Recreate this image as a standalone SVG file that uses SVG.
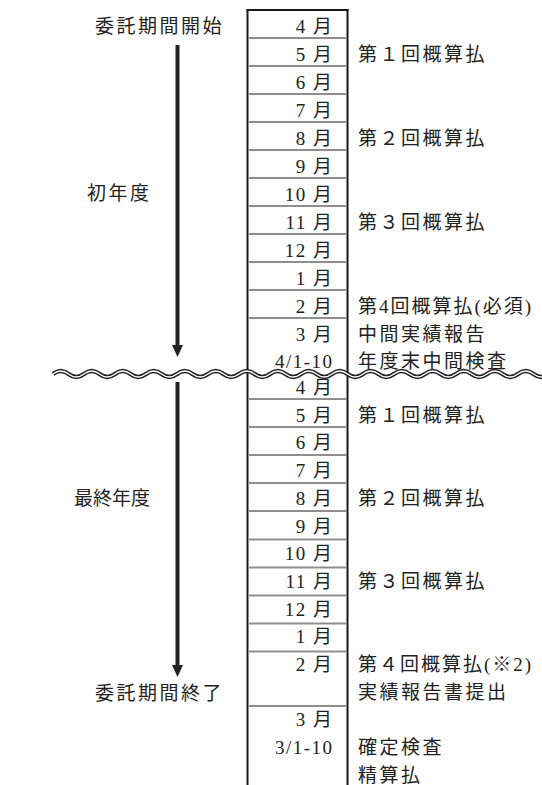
<svg xmlns="http://www.w3.org/2000/svg" width="542" height="785" viewBox="0 0 542 785">
<defs>
<style>
.t { font-family: "Liberation Serif", "Noto Sans CJK JP", serif; font-size: 19px; fill: #222; }
.m { text-anchor: end; letter-spacing: 1.5px; }
.l { letter-spacing: 2.5px; }
.ls { letter-spacing: 2px; }
.sep { stroke: #8f8f8f; stroke-width: 1.8; }
.frame { stroke: #1a1a1a; stroke-width: 2; fill: none; }
.shaft { stroke: #222; stroke-width: 4; }
.head { fill: #222; }
.waveOut { fill: none; stroke: #222; stroke-width: 4.4; }
.waveIn { fill: none; stroke: #fff; stroke-width: 1.3; }
</style>
</defs>
<rect width="542" height="785" fill="#fff"/>

<g id="table">
  <g id="frame">
    <line class="frame" x1="247.5" y1="9" x2="247.5" y2="785"/>
    <line class="frame" x1="347.5" y1="9" x2="347.5" y2="785"/>
    <line class="frame" x1="246.5" y1="10" x2="348.5" y2="10"/>
  </g>
  <g id="separators">
    <line class="sep" x1="248.5" y1="38" x2="346.5" y2="38"/>
    <line class="sep" x1="248.5" y1="66" x2="346.5" y2="66"/>
    <line class="sep" x1="248.5" y1="94" x2="346.5" y2="94"/>
    <line class="sep" x1="248.5" y1="122" x2="346.5" y2="122"/>
    <line class="sep" x1="248.5" y1="150" x2="346.5" y2="150"/>
    <line class="sep" x1="248.5" y1="178" x2="346.5" y2="178"/>
    <line class="sep" x1="248.5" y1="206" x2="346.5" y2="206"/>
    <line class="sep" x1="248.5" y1="234" x2="346.5" y2="234"/>
    <line class="sep" x1="248.5" y1="262" x2="346.5" y2="262"/>
    <line class="sep" x1="248.5" y1="290" x2="346.5" y2="290"/>
    <line class="sep" x1="248.5" y1="318" x2="346.5" y2="318"/>
    <line class="sep" x1="248.5" y1="399" x2="346.5" y2="399"/>
    <line class="sep" x1="248.5" y1="427" x2="346.5" y2="427"/>
    <line class="sep" x1="248.5" y1="455" x2="346.5" y2="455"/>
    <line class="sep" x1="248.5" y1="483" x2="346.5" y2="483"/>
    <line class="sep" x1="248.5" y1="511" x2="346.5" y2="511"/>
    <line class="sep" x1="248.5" y1="539.5" x2="346.5" y2="539.5"/>
    <line class="sep" x1="248.5" y1="567.5" x2="346.5" y2="567.5"/>
    <line class="sep" x1="248.5" y1="595.5" x2="346.5" y2="595.5"/>
    <line class="sep" x1="248.5" y1="623.5" x2="346.5" y2="623.5"/>
    <line class="sep" x1="248.5" y1="651.5" x2="346.5" y2="651.5"/>
    <line class="sep" x1="248.5" y1="706" x2="346.5" y2="706"/>
  </g>
  <g id="months-year1">
    <text class="t m" x="333.5" y="33">4 月</text>
    <text class="t m" x="333.5" y="61">5 月</text>
    <text class="t m" x="333.5" y="89">6 月</text>
    <text class="t m" x="333.5" y="117">7 月</text>
    <text class="t m" x="333.5" y="145">8 月</text>
    <text class="t m" x="333.5" y="173">9 月</text>
    <text class="t m" x="333.5" y="201">10 月</text>
    <text class="t m" x="333.5" y="229">11 月</text>
    <text class="t m" x="333.5" y="257">12 月</text>
    <text class="t m" x="333.5" y="285">1 月</text>
    <text class="t m" x="333.5" y="313">2 月</text>
    <text class="t m" x="333.5" y="341">3 月</text>
    <text class="t m" x="333.5" y="368">4/1-10</text>
  </g>
  <g id="months-final">
    <text class="t m" x="333.5" y="394">4 月</text>
    <text class="t m" x="333.5" y="421.7">5 月</text>
    <text class="t m" x="333.5" y="449.4">6 月</text>
    <text class="t m" x="333.5" y="477.1">7 月</text>
    <text class="t m" x="333.5" y="504.8">8 月</text>
    <text class="t m" x="333.5" y="532.5">9 月</text>
    <text class="t m" x="333.5" y="560.2">10 月</text>
    <text class="t m" x="333.5" y="587.9">11 月</text>
    <text class="t m" x="333.5" y="615.6">12 月</text>
    <text class="t m" x="333.5" y="643.3">1 月</text>
    <text class="t m" x="333.5" y="671">2 月</text>
    <text class="t m" x="333.5" y="726.4">3 月</text>
    <text class="t m" x="333.5" y="754.1">3/1-10</text>
  </g>
</g>

<g id="events-year1">
  <g id="e1-1"><text class="t l" x="358" y="61">第１回概算払</text></g>
  <g id="e1-2"><text class="t l" x="358" y="145">第２回概算払</text></g>
  <g id="e1-3"><text class="t l" x="358" y="229">第３回概算払</text></g>
  <g id="e1-4"><text class="t ls" x="358" y="313">第4回概算払(必須)</text></g>
  <g id="e1-5"><text class="t l" x="358" y="341">中間実績報告</text></g>
  <g id="e1-6"><text class="t l" x="358" y="368">年度末中間検査</text></g>
</g>
<g id="events-final">
  <g id="e2-1"><text class="t l" x="358" y="421.7">第１回概算払</text></g>
  <g id="e2-2"><text class="t l" x="358" y="504.8">第２回概算払</text></g>
  <g id="e2-3"><text class="t l" x="358" y="587.9">第３回概算払</text></g>
  <g id="e2-4"><text class="t ls" x="358" y="671">第４回概算払(※2)</text></g>
  <g id="e2-5"><text class="t l" x="358" y="698.7">実績報告書提出</text></g>
  <g id="e2-6"><text class="t l" x="358" y="754.1">確定検査</text></g>
  <g id="e2-7"><text class="t l" x="358" y="781.8">精算払</text></g>
</g>

<g id="period-labels">
  <g id="start"><text class="t l" x="95" y="33">委託期間開始</text></g>
  <g id="year1"><text class="t l" x="87" y="200">初年度</text></g>
  <g id="final-year"><text class="t" x="74" y="504.8">最終年度</text></g>
  <g id="end"><text class="t l" x="95" y="700">委託期間終了</text></g>
</g>

<g id="connectors">
  <line class="shaft" x1="177.5" y1="45" x2="177.5" y2="347"/>
  <polygon class="head" points="172,345 183,345 177.5,357"/>
  <line class="shaft" x1="177.5" y1="382" x2="177.5" y2="667"/>
  <polygon class="head" points="172,665 183,665 177.5,677"/>
</g>

<g id="break-line">
  <path id="wave" class="waveOut" d="M53,374 q7.75,-6 15.5,0 t15.5,0 t15.5,0 t15.5,0 t15.5,0 t15.5,0 t15.5,0 t15.5,0 t15.5,0 t15.5,0 t15.5,0 t15.5,0 t15.5,0 t15.5,0 t15.5,0 t15.5,0 t15.5,0 t15.5,0 t15.5,0 t15.5,0 t15.5,0 t15.5,0 t15.5,0 t15.5,0 t15.5,0 t15.5,0 t15.5,0 t15.5,0 t15.5,0 t15.5,0 t15.5,0 t15.5,0"/>
  <path class="waveIn" d="M53,374 q7.75,-6 15.5,0 t15.5,0 t15.5,0 t15.5,0 t15.5,0 t15.5,0 t15.5,0 t15.5,0 t15.5,0 t15.5,0 t15.5,0 t15.5,0 t15.5,0 t15.5,0 t15.5,0 t15.5,0 t15.5,0 t15.5,0 t15.5,0 t15.5,0 t15.5,0 t15.5,0 t15.5,0 t15.5,0 t15.5,0 t15.5,0 t15.5,0 t15.5,0 t15.5,0 t15.5,0 t15.5,0 t15.5,0"/>
</g>
</svg>
